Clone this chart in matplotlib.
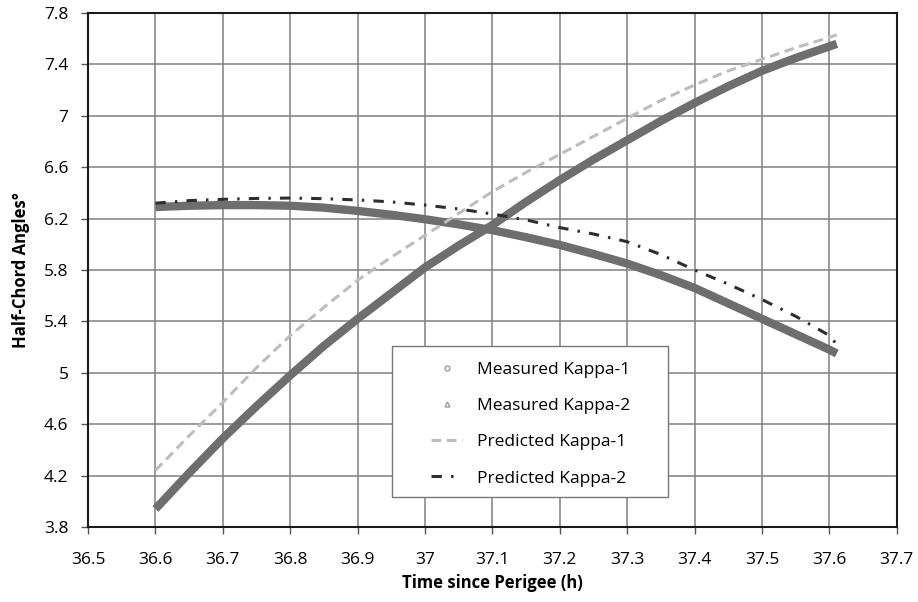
import matplotlib
matplotlib.use("Agg")
import matplotlib.pyplot as plt
from matplotlib.lines import Line2D
from matplotlib.patches import Rectangle

plt.rcParams['font.family'] = ['Open Sans', 'DejaVu Sans']

# time since perigee (h)
t_meas = [36.6, 36.65, 36.7, 36.75, 36.8, 36.85, 36.9, 36.95, 37.0, 37.05,
          37.1, 37.15, 37.2, 37.25, 37.3, 37.35, 37.4, 37.45, 37.5, 37.55,
          37.6, 37.611]
kappa1_meas = [3.94, 4.22, 4.49, 4.74, 4.98, 5.21, 5.42, 5.62, 5.82, 5.99,
               6.15, 6.33, 6.50, 6.66, 6.81, 6.96, 7.10, 7.23, 7.35, 7.45,
               7.54, 7.56]
kappa2_meas = [6.29, 6.30, 6.305, 6.305, 6.30, 6.285, 6.26, 6.23, 6.195, 6.155,
               6.11, 6.055, 5.995, 5.925, 5.85, 5.76, 5.66, 5.54, 5.42, 5.30,
               5.18, 5.15]

t_pred = [36.6, 36.65, 36.7, 36.75, 36.8, 36.85, 36.9, 36.95, 37.0, 37.05,
          37.1, 37.15, 37.2, 37.25, 37.3, 37.35, 37.4, 37.45, 37.5, 37.55,
          37.6, 37.611]
kappa1_pred = [4.24, 4.51, 4.77, 5.04, 5.29, 5.51, 5.72, 5.90, 6.07, 6.24,
               6.41, 6.56, 6.70, 6.84, 6.98, 7.12, 7.24, 7.35, 7.44, 7.53,
               7.61, 7.63]
kappa2_pred = [6.32, 6.34, 6.35, 6.357, 6.36, 6.355, 6.345, 6.33, 6.305, 6.275,
               6.236, 6.19, 6.13, 6.08, 6.02, 5.92, 5.80, 5.69, 5.57, 5.44,
               5.29, 5.22]

fig = plt.figure(figsize=(9.18, 6.02), dpi=100)
ax = fig.add_axes([0.0959, 0.1246, 0.881, 0.8538])

meas_color = '#6e6e6e'
k1_style = dict(color='#bdbdbd', lw=2.2, dashes=(3.2, 1.8))
k2_style = dict(color='#2e2e2e', lw=2.2, dashes=(3.4, 3.0, 0.8, 3.0))

ax.plot(t_meas, kappa1_meas, color=meas_color, lw=6, solid_capstyle='butt', zorder=3)
ax.plot(t_meas, kappa2_meas, color=meas_color, lw=6, solid_capstyle='butt', zorder=3)
ax.plot(t_pred, kappa1_pred, zorder=4, **k1_style)
ax.plot(t_pred, kappa2_pred, zorder=4, **k2_style)

ax.set_xlim(36.5, 37.7)
ax.set_ylim(3.8, 7.8)
xt = [36.5 + 0.1 * i for i in range(13)]
yt = [3.8 + 0.4 * i for i in range(11)]
ax.set_xticks(xt)
ax.set_yticks(yt)
ax.set_xticklabels(['%g' % round(v, 1) for v in xt])
ax.set_yticklabels(['%g' % round(v, 1) for v in yt])
ax.tick_params(labelsize=12.5, direction='out', length=5, width=1, color='#555555')
ax.tick_params(axis='x', pad=13)
ax.tick_params(axis='y', pad=9)
ax.grid(True, color='#808080', lw=1.1)
ax.set_axisbelow(True)
for s in ax.spines.values():
    s.set_color('#1a1a1a')
    s.set_linewidth(1.5)

ax.set_xlabel('Time since Perigee (h)', fontsize=12, fontweight='bold', labelpad=4)
ax.set_ylabel('Half-Chord Angles°', fontsize=12, fontweight='bold', labelpad=10)

# legend box drawn separately so the handles can sit inset from its edge
box = Rectangle((0.3758, 0.058), 0.3412, 0.294, transform=ax.transAxes,
                facecolor='white', edgecolor='#777777', lw=1, zorder=5)
ax.add_patch(box)

handles = [
    Line2D([], [], ls='none', marker='o', ms=3.5, mfc='white', mec='#999999', mew=1),
    Line2D([], [], ls='none', marker='^', ms=3.5, mfc='white', mec='#999999', mew=1),
    Line2D([], [], **k1_style),
    Line2D([], [], **k2_style),
]
labels = ['Measured Kappa-1', 'Measured Kappa-2', 'Predicted Kappa-1', 'Predicted Kappa-2']
leg = ax.legend(handles, labels, loc='upper left', bbox_to_anchor=(0.424, 0.321),
                fontsize=12.5, frameon=False, labelspacing=1.15, handlelength=1.8,
                handletextpad=0.85, borderpad=0, borderaxespad=0, numpoints=1)
leg.set_zorder(6)

fig.savefig('out.png', dpi=100)
